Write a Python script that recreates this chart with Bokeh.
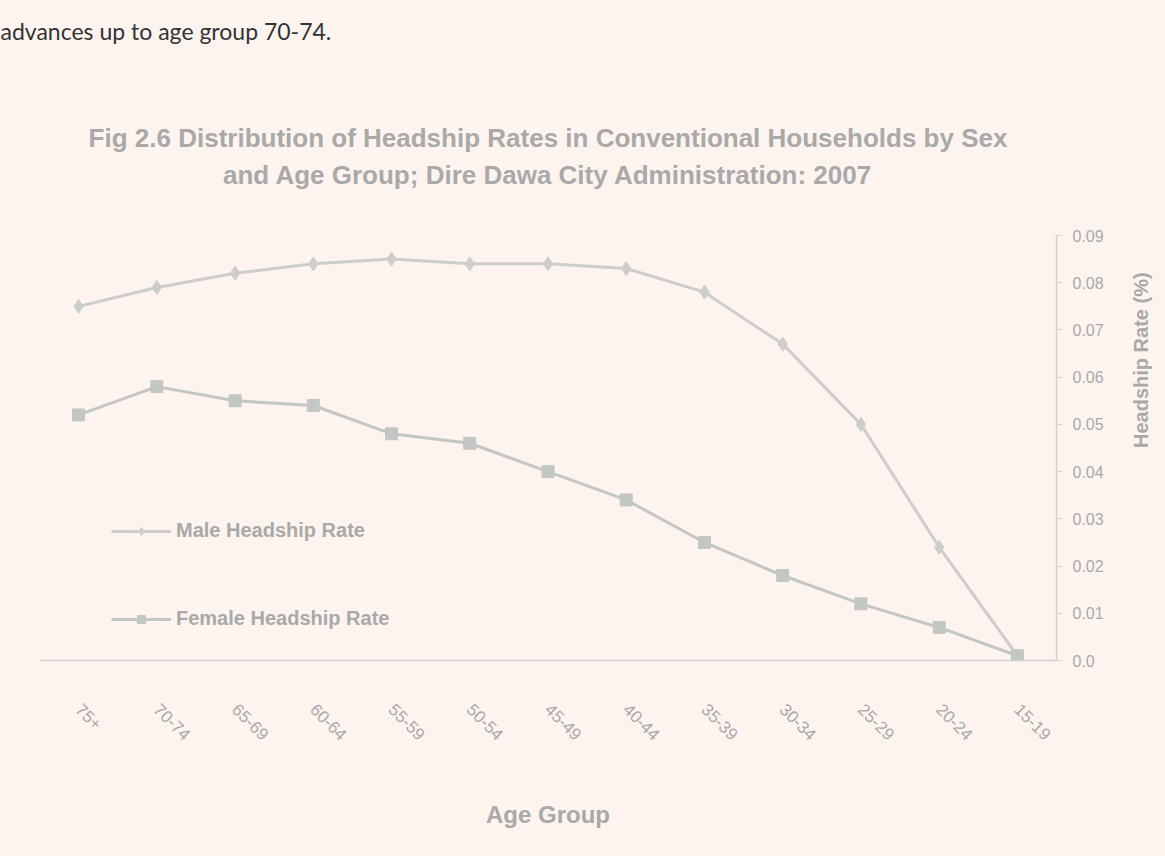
import math
from bokeh.plotting import figure
from bokeh.models import Range1d, Legend, LegendItem, FixedTicker, Title
from bokeh.embed import file_html
from bokeh.resources import INLINE

# ---- data ----
age_groups = ["15-19", "20-24", "25-29", "30-34", "35-39", "40-44", "45-49",
              "50-54", "55-59", "60-64", "65-69", "70-74", "75+"]
male_rate = [0.001, 0.024, 0.050, 0.067, 0.078, 0.083, 0.084,
             0.084, 0.085, 0.084, 0.082, 0.079, 0.075]
female_rate = [0.001, 0.007, 0.012, 0.018, 0.025, 0.034, 0.040,
               0.046, 0.048, 0.054, 0.055, 0.058, 0.052]
y_ticks = [0.0, 0.01, 0.02, 0.03, 0.04, 0.05, 0.06, 0.07, 0.08, 0.09]
y_tick_labels = ["0.0", "0.01", "0.02", "0.03", "0.04", "0.05", "0.06", "0.07", "0.08", "0.09"]

title_line1 = "Fig 2.6 Distribution of Headship Rates in Conventional Households by Sex"
title_line2 = "and Age Group; Dire Dawa City Administration: 2007"
page_text = "advances up to age group 70-74."

BG = "#fdf4ef"
TXT = "#a9a9a9"
MALE_C = "#cdcdcd"
FEMALE_C = "#c3c7c3"
FONT = "Liberation Sans"

W, H = 1165, 856
n = len(age_groups)
x_idx = list(range(n))

p = figure(width=W, height=H,
           x_range=Range1d(n - 0.5, -0.5),          # oldest group on the left
           y_range=Range1d(0, y_ticks[-1]),
           y_axis_location="right",
           output_backend="svg", toolbar_location=None,
           min_border_left=39, min_border_right=108,
           min_border_top=232, min_border_bottom=196,
           background_fill_color=BG, border_fill_color=BG)
p.outline_line_color = None
p.grid.visible = False

# x axis
p.xaxis.ticker = FixedTicker(ticks=x_idx)
p.xaxis.major_label_overrides = {i: g for i, g in zip(x_idx, age_groups)}
p.xaxis.axis_line_color = "#d0d0d0"
p.xaxis.axis_line_width = 1.5
p.xaxis.major_tick_line_color = None
p.xaxis.minor_tick_line_color = None
p.xaxis.major_label_orientation = -math.pi / 4
p.xaxis.major_label_standoff = 40
p.xaxis.major_label_text_font = FONT
p.xaxis.major_label_text_font_size = "17px"
p.xaxis.major_label_text_color = TXT
p.xaxis.axis_label = "Age Group"
p.xaxis.axis_label_text_font = FONT
p.xaxis.axis_label_text_font_size = "24px"
p.xaxis.axis_label_text_font_style = "bold"
p.xaxis.axis_label_text_color = TXT
p.xaxis.axis_label_standoff = 52

# y axis
p.yaxis.ticker = FixedTicker(ticks=y_ticks)
p.yaxis.major_label_overrides = {t: l for t, l in zip(y_ticks, y_tick_labels)}
p.yaxis.axis_line_color = "#d0d0d0"
p.yaxis.axis_line_width = 1.5
p.yaxis.major_tick_line_color = "#d0d0d0"
p.yaxis.major_tick_out = 5
p.yaxis.major_tick_in = 0
p.yaxis.minor_tick_line_color = None
p.yaxis.major_label_standoff = 11
p.yaxis.major_label_text_font = FONT
p.yaxis.major_label_text_font_size = "16px"
p.yaxis.major_label_text_color = TXT
p.yaxis.axis_label = "Headship Rate (%)"
p.yaxis.axis_label_text_font = FONT
p.yaxis.axis_label_text_font_size = "20px"
p.yaxis.axis_label_text_font_style = "bold"
p.yaxis.axis_label_text_color = TXT
p.yaxis.axis_label_standoff = 34
try:
    p.yaxis.axis_label_orientation = math.pi / 2
except Exception:
    pass

# series
m_line = p.line(x_idx, male_rate, line_color=MALE_C, line_width=3)
m_pts = p.scatter(x_idx, male_rate, marker="diamond", size=14,
                  fill_color=MALE_C, line_color=MALE_C)
f_line = p.line(x_idx, female_rate, line_color=FEMALE_C, line_width=3)
f_pts = p.scatter(x_idx, female_rate, marker="square", size=12,
                  fill_color=FEMALE_C, line_color=FEMALE_C)

legend = Legend(items=[LegendItem(label="Male Headship Rate", renderers=[m_line, m_pts]),
                       LegendItem(label="Female Headship Rate", renderers=[f_line, f_pts])],
                location=(72, 30), orientation="vertical",
                glyph_width=60, glyph_height=20, label_height=20,
                spacing=65, padding=10,
                label_text_font=FONT, label_text_font_size="20px",
                label_text_font_style="bold", label_text_color=TXT,
                background_fill_alpha=0, border_line_color=None)
p.add_layout(legend, "center")

# titles stacked above the plot (the first one added sits closest to the plot);
# blank titles act as vertical spacers
p.add_layout(Title(text=" ", text_font_size="10px", standoff=30), "above")
p.add_layout(Title(text=title_line2, align="center", offset=19, standoff=5,
                   text_font=FONT, text_font_size="26px", text_font_style="bold",
                   text_color=TXT), "above")
p.add_layout(Title(text=title_line1, align="center", offset=19, standoff=5,
                   text_font=FONT, text_font_size="26px", text_font_style="bold",
                   text_color=TXT), "above")
p.add_layout(Title(text=" ", text_font_size="10px", standoff=46), "above")
p.add_layout(Title(text=page_text, align="left", offset=-39, standoff=29,
                   text_font="Lato", text_font_size="23px", text_font_style="normal",
                   text_color="#333333"), "above")

html = file_html(p, INLINE)
html = html.replace("<head>", "<head><style>body{background:%s;}</style>" % BG, 1)
open("out.html", "w").write(html)
